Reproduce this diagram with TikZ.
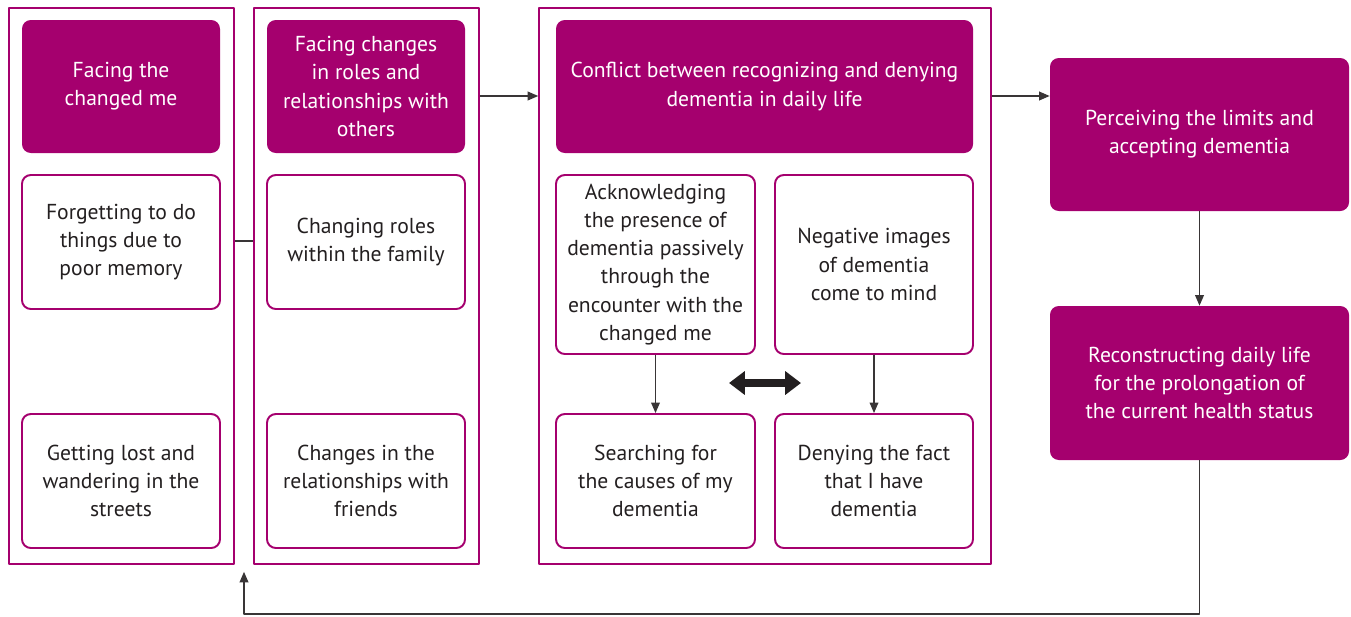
\documentclass[tikz,border=0pt]{standalone}
\usepackage{fontspec}
\setmainfont{PT Sans}
\usetikzlibrary{arrows.meta,calc}
\definecolor{plum}{RGB}{165,0,110}
\definecolor{ink}{RGB}{35,31,32}
\begin{document}
\begin{tikzpicture}[x=0.02cm,y=-0.02cm,line join=round,font=\fontsize{12.3}{16}\selectfont,
	wh/.style 2 args={minimum width=(#1)*0.02cm,minimum height=(#2)*0.02cm},
	frame/.style={draw=plum,line width=0.9pt,inner sep=0pt},
	head/.style={fill=plum,text=white,rounded corners=5pt,align=center,inner sep=0pt},
	sub/.style={draw=plum,line width=1.1pt,rounded corners=5pt,align=center,inner sep=0pt,text=ink},
	link/.style={draw=ink!90,line width=0.7pt,-{Triangle[length=6pt,width=5pt]}},
	both/.style={draw=ink,line width=4.5pt,{Triangle[length=9pt,width=13pt]}-{Triangle[length=9pt,width=13pt]}}]
	\useasboundingbox (0,0) rectangle (1351,616);
	% outer frames
	\foreach \n/\xa/\xb in {f1/9/234,f2/254/479,f3/539/991}
	\node[frame,wh={\xb-\xa}{556}] (\n) at ($(\xa,8)!.5!(\xb,564)$) {};
	% headers
	\foreach \n/\xa/\ya/\xb/\yb/\t in {
		h1/22/20/220/153/{Facing the\\changed me},
		h2/267/20/465/153/{Facing changes\\in roles and\\relationships with\\others},
		h3/556/20/973/153/{Conflict between recognizing and denying\\dementia in daily life},
		r1/1050/58/1349/211/{Perceiving the limits and\\accepting dementia},
		r2/1050/306/1349/460/{Reconstructing daily life\\for the prolongation of\\the current health status}}
	\node[head,wh={\xb-\xa}{\yb-\ya}] (\n) at ($(\xa,\ya)!.5!(\xb,\yb)$) {\t};
	% sub-themes
	\foreach \n/\xa/\ya/\xb/\yb/\t in {
		b1/22/175/220/309/{Forgetting to do\\things due to\\poor memory},
		b2/22/414/220/548/{Getting lost and\\wandering in the\\streets},
		c1/267/175/465/309/{Changing roles\\within the family},
		c2/267/414/465/548/{Changes in the\\relationships with\\friends},
		d1/556/175/755/354/{Acknowledging\\the presence of\\dementia passively\\through the\\encounter with the\\changed me},
		d2/775/175/973/354/{Negative images\\of dementia\\come to mind},
		d3/556/414/755/548/{Searching for\\the causes of my\\dementia},
		d4/775/414/973/548/{Denying the fact\\that I have\\dementia}}
	\node[sub,wh={\xb-\xa}{\yb-\ya}] (\n) at ($(\xa,\ya)!.5!(\xb,\yb)$) {\t};
	% connectors
	\coordinate (m) at (0,241);
	\coordinate (t) at (0,96);
	\coordinate (fb) at (0,614);
	\coordinate (dl) at (729,383);
	\coordinate (dr) at (801,383);
	\draw[ink!90,line width=0.7pt] (f1.east|-m) -- (f2.west|-m);
	\draw[link] (f2.east|-t) -- (f3.west|-t);
	\draw[link] (f3.east|-t) -- (r1.west|-t);
	\draw[link] (r1.south) -- (r2.north);
	\draw[link] (d1.south) -- (d3.north);
	\draw[link] (d2.south) -- (d4.north);
	\draw[both] (dl) -- (dr);
	\draw[link,shorten >=4pt] (r2.south) -- (r2.south|-fb) -| ($(f1.south east)!.5!(f2.south west)$);
\end{tikzpicture}
\end{document}
